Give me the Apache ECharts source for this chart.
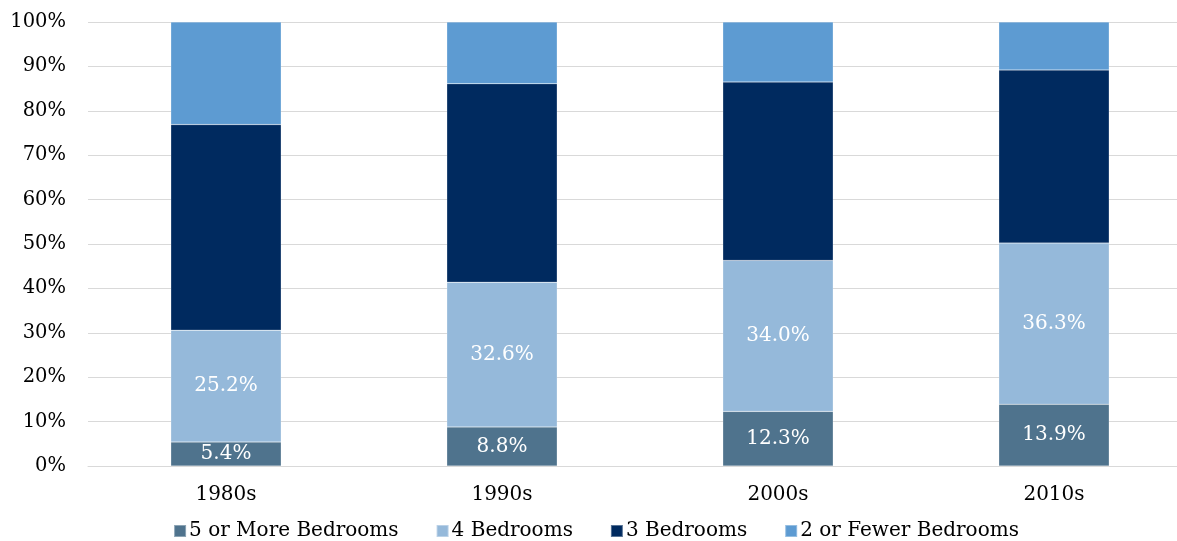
<!DOCTYPE html>
<html>
<head>
<meta charset="utf-8">
<script src="https://cdn.jsdelivr.net/npm/echarts@6/dist/echarts.min.js"></script>
<style>
  html, body { margin: 0; padding: 0; background: #fff; overflow: hidden; }
  /* the plot area runs a little past the right edge of the window */
  #chart { width: 1192px; height: 541px; }
</style>
</head>
<body>
<div id="chart"></div>
<script>
// Share of homes by bedroom count, by decade built (percent)
const decades = ['1980s', '1990s', '2000s', '2010s'];
const fivePlus = [5.4, 8.8, 12.3, 13.9];
const fourBed = [25.2, 32.6, 34.0, 36.3];
const threeBed = [46.3, 44.7, 40.2, 39.0];
const twoOrFewer = [23.1, 13.9, 13.5, 10.8];
const yTicks = [0, 10, 20, 30, 40, 50, 60, 70, 80, 90, 100];

const FONT = 'DejaVu Serif';

const seriesDefs = [
  { name: '5 or More Bedrooms', data: fivePlus, color: '#4F738D', label: true },
  { name: '4 Bedrooms', data: fourBed, color: '#95B9DA', label: true },
  { name: '3 Bedrooms', data: threeBed, color: '#002A5F', label: false },
  { name: '2 or Fewer Bedrooms', data: twoOrFewer, color: '#5D9BD2', label: false }
];

const chart = echarts.init(document.getElementById('chart'), null, { renderer: 'canvas' });

chart.setOption({
  animation: false,
  textStyle: { fontFamily: FONT },
  grid: { left: 88, right: 0, top: 22, bottom: 75 },
  xAxis: {
    type: 'category',
    data: decades,
    axisLine: { show: true, lineStyle: { color: '#d9d9d9', width: 1 } },
    axisTick: { show: false },
    axisLabel: { fontFamily: FONT, fontSize: 20, color: '#000', margin: 19 }
  },
  yAxis: {
    type: 'value',
    min: yTicks[0],
    max: yTicks[yTicks.length - 1],
    interval: yTicks[1] - yTicks[0],
    axisLine: { show: false },
    axisTick: { show: false },
    splitLine: { lineStyle: { color: '#d9d9d9', width: 1 } },
    axisLabel: { fontFamily: FONT, fontSize: 19.5, color: '#000', margin: 22, formatter: '{value}%' }
  },
  legend: {
    bottom: 0,
    left: 'center',
    padding: 0,
    icon: 'rect',
    itemWidth: 12,
    itemHeight: 12,
    itemGap: 37,
    textStyle: { fontFamily: FONT, fontSize: 20, color: '#000', padding: [0, 0, 0, -2] },
    data: seriesDefs.map(s => s.name)
  },
  series: seriesDefs.map(s => ({
    name: s.name,
    type: 'bar',
    stack: 'total',
    barWidth: '40%',
    data: s.data,
    itemStyle: { color: s.color, borderColor: 'rgba(255,255,255,0.35)', borderWidth: 0.5 },
    label: {
      show: s.label,
      position: 'inside',
      color: '#fff',
      fontFamily: FONT,
      fontSize: 20,
      formatter: p => p.value.toFixed(1) + '%'
    }
  }))
});
</script>
</body>
</html>
